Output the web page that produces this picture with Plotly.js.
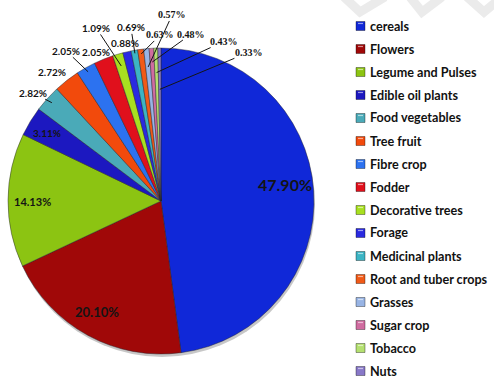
<!DOCTYPE html>
<html>
<head>
<meta charset="utf-8">
<script src="https://cdn.plot.ly/plotly-3.0.1.min.js"></script>
<style>
  html, body { margin: 0; padding: 0; background: #fff; }
  #chart { width: 494px; height: 381px; }
</style>
</head>
<body>
<div id="chart"></div>
<script>
// Crop groups and their share of the total (%)
const categories = [
  "cereals", "Flowers", "Legume and Pulses", "Edible oil plants",
  "Food vegetables", "Tree fruit", "Fibre crop", "Fodder",
  "Decorative trees", "Forage", "Medicinal plants", "Root and tuber crops",
  "Grasses", "Sugar crop", "Tobacco", "Nuts"
];
const shares = [47.90, 20.10, 14.13, 3.11, 2.82, 2.72, 2.05, 2.05,
                1.09, 0.88, 0.69, 0.63, 0.57, 0.48, 0.43, 0.33];

// Slice fills
const sliceColors = [
  "#1028d8", "#a00808", "#8cc412", "#1c18c0",
  "#4aaab8", "#f24a0c", "#2c72f0", "#e0101c",
  "#a8e020", "#2a2ae0", "#3cb4c4", "#f05a18",
  "#98b4e4", "#d06ca0", "#b4e070", "#8878c8"
];

// Percentage label placement: radius fraction of the anchor point on the
// slice's mid-angle, pixel offset of the text from it, leader line on/off
const labelRadius = [0.82, 0.84, 0.82, 0.82, 0.96, 1.00, 0.97, 1.00,
                     0.92, 1.00, 0.98, 0.97, 0.88, 0.91, 0.84, 0.73];
const labelDx = [-1, -2, -3, -7, -19, -15, -22, -8, -25, -2, -4, 19, 24, 39, 67, 89];
const labelDy = [-8, -2, 1, -3, -10, -8, -21, -7, -38, -9, -26, -19, -52, -28, -31, -37];
const labelLine = [false, false, false, false, true, false, true, false,
                   true, false, true, true, true, true, true, true];
const labelSize = [16, 13, 11, 10, 10, 10, 10, 10, 10, 10, 10, 10, 10, 10, 10, 10];
const labelSerif = [false, false, false, false, false, false, false, false,
                    false, false, false, true, true, true, true, true];

const W = 494, H = 381;
const CX = 161, CY = 201, R = 153;   // pie centre and radius in pixels
const px = x => x / W;
const py = y => 1 - y / H;

const total = shares.reduce((a, b) => a + b, 0);

const trace = {
  type: "pie",
  labels: categories,
  values: shares,
  sort: false,
  direction: "clockwise",
  rotation: 0,
  textinfo: "none",
  hoverinfo: "label+percent",
  marker: {
    colors: sliceColors,
    line: { color: "rgba(35,35,45,0.75)", width: 0.6 }
  },
  domain: { x: [px(CX - R), px(CX + R)], y: [py(CY + R), py(CY - R)] },
  showlegend: false
};

const annotations = [];
const shapes = [];

// soft shadow under the pie
shapes.push({
  type: "circle", xref: "paper", yref: "paper", layer: "below",
  x0: px(CX - R + 1), x1: px(CX + R + 1), y0: py(CY + R + 3), y1: py(CY - R + 3),
  fillcolor: "rgba(0,0,0,0.22)", line: { width: 0 }
});

// percentage labels, anchored on each slice's mid-angle
let cum = 0;
shares.forEach((v, i) => {
  const theta = 2 * Math.PI * (cum + v / 2) / total;
  cum += v;
  const r = R * labelRadius[i];
  const hx = CX + r * Math.sin(theta);
  const hy = CY - r * Math.cos(theta);
  const font = {
    family: labelSerif[i] ? "Liberation Serif, serif" : "Lato, sans-serif",
    size: labelSize[i], color: "#141414", weight: 700
  };
  const text = v.toFixed(2) + "%";
  if (labelLine[i]) {
    annotations.push({
      xref: "paper", yref: "paper", x: px(hx), y: py(hy),
      ax: labelDx[i], ay: labelDy[i], axref: "pixel", ayref: "pixel",
      text: text, font: font, showarrow: true, arrowhead: 0,
      arrowwidth: 1, arrowcolor: "#151515", standoff: 0, startstandoff: 0,
      xanchor: "center", yanchor: "middle", borderpad: 0
    });
  } else {
    annotations.push({
      xref: "paper", yref: "paper", x: px(hx + labelDx[i]), y: py(hy + labelDy[i]),
      text: text, font: font, showarrow: false,
      xanchor: "center", yanchor: "middle"
    });
  }
});

// legend on the right
const legendTop = 26, legendStep = 23.0;
categories.forEach((name, i) => {
  const yc = legendTop + i * legendStep;
  shapes.push({
    type: "rect", xref: "paper", yref: "paper",
    x0: px(356), x1: px(365), y0: py(yc + 4.5), y1: py(yc - 4.5),
    fillcolor: sliceColors[i], line: { color: "rgba(0,0,0,0.45)", width: 0.8 }
  });
  shapes.push({
    type: "line", xref: "paper", yref: "paper",
    x0: px(358), x1: px(363), y0: py(yc - 2.5), y1: py(yc - 2.5),
    line: { color: "rgba(255,255,255,0.55)", width: 1.2 }
  });
  annotations.push({
    xref: "paper", yref: "paper", x: px(369), y: py(yc),
    text: name, showarrow: false, xanchor: "left", yanchor: "middle",
    borderpad: 0,
    font: { family: "Lato, sans-serif", size: 12.6, color: "#111", weight: 700 }
  });
});

// faint chevron pattern along the top edge
const chevrons = [[344, 360, 385], [410, 422, 442], [467, 484, 502]];
chevrons.forEach(c => {
  shapes.push({
    type: "path", xref: "paper", yref: "paper", layer: "below",
    path: `M ${px(c[0])} ${py(-3)} L ${px(c[1])} ${py(12)} L ${px(c[2])} ${py(-3)}`,
    line: { color: "#ebebeb", width: 9 }
  });
});

const layout = {
  width: W, height: H,
  margin: { l: 0, r: 0, t: 0, b: 0 },
  paper_bgcolor: "#ffffff",
  plot_bgcolor: "#ffffff",
  showlegend: false,
  annotations: annotations,
  shapes: shapes
};

Plotly.newPlot("chart", [trace], layout, { staticPlot: true, displayModeBar: false });
</script>
</body>
</html>
